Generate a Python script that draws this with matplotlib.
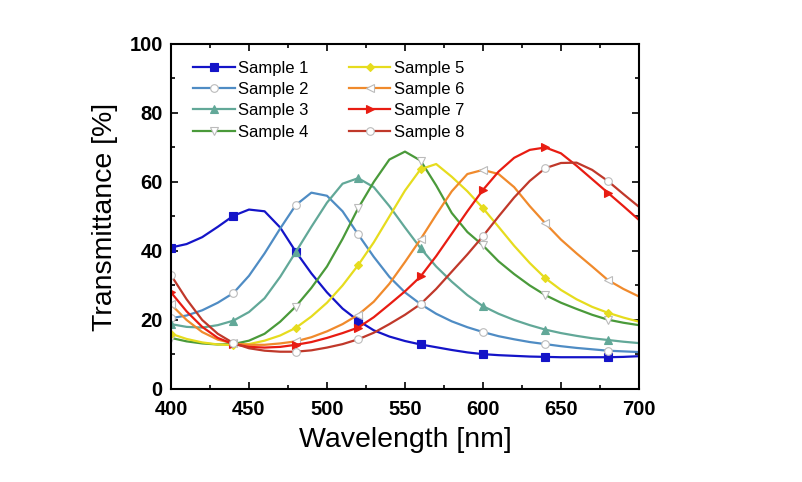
import numpy as np
import matplotlib
matplotlib.use("Agg")
import matplotlib.pyplot as plt
from matplotlib.ticker import MultipleLocator

plt.rcParams['font.family'] = ['Liberation Sans', 'DejaVu Sans']

# Wavelength grid (nm), values every 10 nm
wavelength = np.arange(400, 701, 10)

sample1 = [41.0, 42.0, 44.0, 47.0, 50.2, 52.0, 51.5, 46.8, 39.8, 33.5, 28.0,
           23.3, 19.8, 17.0, 15.2, 13.9, 12.9, 12.1, 11.3, 10.6, 10.1, 9.8,
           9.6, 9.4, 9.3, 9.2, 9.2, 9.2, 9.2, 9.3, 9.5]
sample2 = [20.5, 21.3, 22.8, 25.0, 27.8, 32.8, 39.3, 46.5, 53.3, 56.9, 56.0,
           51.5, 44.8, 38.3, 32.5, 28.0, 24.6, 21.8, 19.6, 17.9, 16.5, 15.3,
           14.4, 13.6, 13.0, 12.4, 11.9, 11.5, 11.1, 10.9, 10.7]
sample3 = [18.8, 18.0, 17.8, 18.5, 19.8, 22.3, 26.3, 32.5, 39.7, 47.0, 54.0,
           59.5, 61.1, 58.5, 53.0, 46.8, 40.8, 35.5, 31.1, 27.2, 24.0, 21.8,
           20.0, 18.5, 17.2, 16.2, 15.4, 14.7, 14.2, 13.7, 13.3]
sample4 = [14.8, 13.8, 13.2, 12.9, 13.0, 14.0, 16.0, 19.5, 23.9, 29.3, 35.5,
           43.5, 52.4, 60.0, 66.5, 68.8, 66.2, 59.0, 51.0, 45.5, 41.6, 37.0,
           33.3, 30.0, 27.2, 25.0, 23.2, 21.5, 20.1, 19.2, 18.5]
sample5 = [16.0, 14.5, 13.5, 12.9, 12.7, 13.0, 14.0, 15.5, 17.7, 21.0, 25.0,
           30.0, 35.9, 42.5, 50.0, 57.5, 63.7, 65.2, 61.5, 57.3, 52.4, 47.0,
           41.5, 36.5, 32.1, 28.7, 26.0, 23.8, 22.1, 20.7, 19.5]
sample6 = [24.5, 20.0, 16.5, 14.3, 13.2, 12.8, 12.8, 13.2, 13.8, 15.0, 16.7,
           18.8, 21.5, 25.3, 30.5, 36.8, 43.4, 50.5, 57.3, 62.3, 63.5, 62.3,
           58.5, 53.0, 48.0, 43.3, 39.3, 35.5, 31.6, 29.0, 26.8]
sample7 = [28.0, 22.5, 18.0, 14.8, 13.0, 12.2, 12.0, 12.2, 12.8, 13.6, 14.8,
           16.2, 17.8, 20.8, 24.5, 28.3, 32.6, 38.5, 45.0, 51.5, 57.7, 63.0,
           67.0, 69.3, 70.0, 68.3, 64.7, 60.8, 56.9, 53.0, 49.0]
sample8 = [33.0, 26.0, 20.0, 16.0, 13.3, 11.8, 11.1, 10.8, 10.8, 11.2, 12.0,
           13.0, 14.4, 16.3, 18.8, 21.5, 24.6, 29.0, 34.0, 39.0, 44.3, 50.0,
           55.5, 60.3, 64.0, 65.5, 65.6, 63.5, 60.3, 56.5, 52.8]

labels = ['Sample 1', 'Sample 2', 'Sample 3', 'Sample 4',
          'Sample 5', 'Sample 6', 'Sample 7', 'Sample 8']
series = [sample1, sample2, sample3, sample4, sample5, sample6, sample7, sample8]
colors = ['#1414c8', '#4f8cc4', '#62a898', '#4a9a3a',
          '#e6dc1e', '#f08a2c', '#e81c12', '#c0382a']
markers = ['s', 'o', '^', 'v', 'D', '<', '>', 'o']
filled = [True, False, True, False, True, False, True, False]

fig = plt.figure(figsize=(8.02, 4.82), dpi=100)
ax = fig.add_axes([0.2132, 0.193, 0.5835, 0.7158])

for y, lab, c, m, f in zip(series, labels, colors, markers, filled):
    ms = 4.5 if m == 'D' else 5.5
    ax.plot(wavelength, y, color=c, lw=1.6, marker=m, markevery=4,
            markersize=ms, markerfacecolor=c if f else 'white',
            markeredgecolor=c if f else '#bbbbbb', markeredgewidth=0.8,
            label=lab, solid_joinstyle='round')

ax.set_xlim(400, 700)
ax.set_ylim(0, 100)
ax.xaxis.set_major_locator(MultipleLocator(50))
ax.xaxis.set_minor_locator(MultipleLocator(25))
ax.yaxis.set_major_locator(MultipleLocator(20))
ax.yaxis.set_minor_locator(MultipleLocator(10))
ax.tick_params(which='both', direction='in', top=True, right=True, width=1.2)
ax.tick_params(which='major', length=5)
ax.tick_params(which='minor', length=3)
ax.tick_params(labelsize=14.5)
ax.tick_params(axis='x', pad=8)
ax.tick_params(axis='y', pad=6)
for t in ax.get_xticklabels() + ax.get_yticklabels():
    t.set_fontweight('bold')
for s in ax.spines.values():
    s.set_linewidth(1.5)

ax.set_xlabel('Wavelength [nm]', fontsize=20.5, labelpad=6)
ax.set_ylabel('Transmittance [%]', fontsize=20.5, labelpad=8)

ax.legend(ncol=2, loc='upper left', frameon=False, fontsize=12,
          handlelength=2.5, handletextpad=0.2, columnspacing=2.4,
          labelspacing=0.38, borderaxespad=0.6, bbox_to_anchor=(0.012, 1.0))

fig.savefig('out.png', dpi=100)
